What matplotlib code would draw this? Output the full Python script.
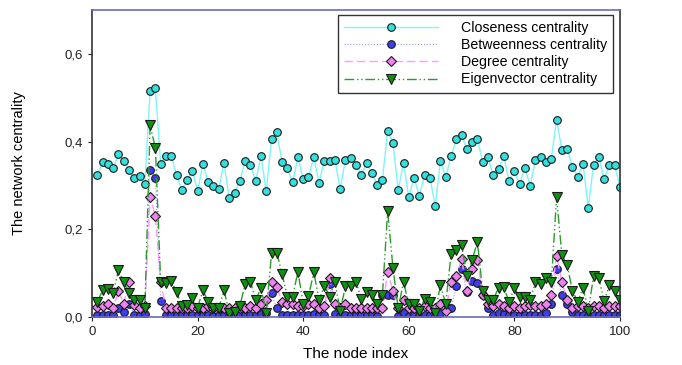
import matplotlib.pyplot as plt
from matplotlib.ticker import FuncFormatter

plt.rcParams['font.family'] = ['Liberation Sans', 'DejaVu Sans']

nodes = list(range(1, 101))

closeness = [0.323, 0.353, 0.349, 0.339, 0.371, 0.356, 0.336, 0.316, 0.322, 0.303,
             0.516, 0.521, 0.349, 0.368, 0.368, 0.323, 0.290, 0.312, 0.333, 0.287,
             0.349, 0.308, 0.299, 0.293, 0.351, 0.271, 0.283, 0.310, 0.356, 0.347,
             0.310, 0.367, 0.287, 0.405, 0.421, 0.353, 0.339, 0.307, 0.364, 0.314,
             0.319, 0.365, 0.306, 0.356, 0.356, 0.359, 0.292, 0.359, 0.363, 0.347,
             0.323, 0.351, 0.329, 0.302, 0.313, 0.424, 0.397, 0.290, 0.352, 0.273,
             0.317, 0.277, 0.323, 0.318, 0.254, 0.355, 0.319, 0.366, 0.405, 0.414,
             0.384, 0.398, 0.405, 0.354, 0.364, 0.323, 0.337, 0.367, 0.310, 0.333,
             0.303, 0.340, 0.299, 0.359, 0.365, 0.354, 0.361, 0.450, 0.381, 0.384,
             0.342, 0.320, 0.350, 0.249, 0.347, 0.365, 0.314, 0.346, 0.346, 0.297]

betweenness = [0.005, 0.005, 0.005, 0.005, 0.020, 0.012, 0.030, 0.005, 0.004, 0.008,
               0.335, 0.317, 0.038, 0.004, 0.004, 0.004, 0.004, 0.004, 0.006, 0.004,
               0.006, 0.004, 0.003, 0.004, 0.005, 0.003, 0.003, 0.004, 0.005, 0.006,
               0.004, 0.008, 0.010, 0.054, 0.020, 0.005, 0.004, 0.004, 0.006, 0.004,
               0.005, 0.008, 0.004, 0.006, 0.075, 0.008, 0.003, 0.006, 0.004, 0.005,
               0.004, 0.004, 0.004, 0.003, 0.050, 0.050, 0.050, 0.003, 0.010, 0.003,
               0.004, 0.003, 0.005, 0.004, 0.003, 0.010, 0.025, 0.020, 0.070, 0.110,
               0.057, 0.083, 0.077, 0.050, 0.020, 0.005, 0.010, 0.008, 0.004, 0.006,
               0.004, 0.005, 0.006, 0.005, 0.006, 0.010, 0.030, 0.110, 0.050, 0.030,
               0.012, 0.004, 0.005, 0.003, 0.006, 0.006, 0.004, 0.005, 0.004, 0.005]

degree = [0.023, 0.025, 0.030, 0.020, 0.060, 0.030, 0.080, 0.028, 0.020, 0.026,
          0.273, 0.231, 0.080, 0.020, 0.020, 0.020, 0.020, 0.022, 0.025, 0.020,
          0.022, 0.025, 0.020, 0.020, 0.022, 0.020, 0.020, 0.020, 0.022, 0.025,
          0.020, 0.030, 0.040, 0.080, 0.068, 0.035, 0.030, 0.030, 0.025, 0.025,
          0.030, 0.030, 0.020, 0.025, 0.090, 0.030, 0.020, 0.030, 0.020, 0.020,
          0.020, 0.020, 0.020, 0.020, 0.020, 0.102, 0.060, 0.020, 0.040, 0.020,
          0.020, 0.020, 0.025, 0.020, 0.020, 0.030, 0.015, 0.080, 0.093, 0.133,
          0.060, 0.110, 0.131, 0.050, 0.030, 0.025, 0.030, 0.025, 0.022, 0.025,
          0.022, 0.025, 0.028, 0.025, 0.025, 0.030, 0.050, 0.140, 0.080, 0.040,
          0.020, 0.025, 0.025, 0.020, 0.025, 0.025, 0.020, 0.025, 0.025, 0.025]

eigenvector = [0.035, 0.061, 0.064, 0.055, 0.107, 0.081, 0.054, 0.039, 0.039, 0.020,
               0.437, 0.385, 0.080, 0.079, 0.083, 0.057, 0.025, 0.028, 0.043, 0.022,
               0.061, 0.035, 0.020, 0.022, 0.061, 0.010, 0.011, 0.026, 0.075, 0.081,
               0.039, 0.066, 0.010, 0.146, 0.147, 0.098, 0.047, 0.047, 0.104, 0.030,
               0.048, 0.102, 0.040, 0.071, 0.047, 0.080, 0.015, 0.070, 0.070, 0.080,
               0.042, 0.057, 0.050, 0.030, 0.050, 0.241, 0.113, 0.020, 0.080, 0.030,
               0.030, 0.015, 0.042, 0.035, 0.010, 0.073, 0.030, 0.143, 0.152, 0.165,
               0.094, 0.131, 0.171, 0.060, 0.040, 0.040, 0.067, 0.068, 0.035, 0.067,
               0.045, 0.045, 0.040, 0.080, 0.075, 0.090, 0.080, 0.273, 0.142, 0.119,
               0.060, 0.035, 0.067, 0.015, 0.093, 0.090, 0.036, 0.073, 0.060, 0.040]

fig = plt.figure(figsize=(6.82, 3.65), dpi=100)
ax = fig.add_axes([0.135, 0.131, 0.774, 0.842])

ms = 5.5
ax.plot(nodes, closeness, color='#7ff5f5', lw=1, marker='o', ms=ms,
        mfc='#33e0e0', mec='#1a1a1a', mew=0.8, label='Closeness centrality')
ax.plot(nodes, betweenness, color='#9a9aff', lw=0.8, ls=':', marker='o', ms=ms,
        mfc='#3c3cf0', mec='#1a1a1a', mew=0.8, label='Betweenness centrality')
ax.plot(nodes, degree, color='#ff99ff', lw=1, ls=(0, (6, 3)), marker='D', ms=ms - 0.5,
        mfc='#ee82ee', mec='#1a1a1a', mew=0.8, label='Degree centrality')
ax.plot(nodes, eigenvector, color='#2e9a2e', lw=1, ls=(0, (7, 2, 1, 2, 1, 2)),
        marker='v', ms=ms + 1, mfc='#109010', mec='#1a1a1a', mew=0.8,
        label='Eigenvector centrality')

ax.set_xlim(0, 100)
ax.set_ylim(0, 0.7)
ax.set_xticks([0, 20, 40, 60, 80, 100])
ax.set_yticks([0.0, 0.2, 0.4, 0.6])
ax.yaxis.set_major_formatter(FuncFormatter(lambda v, p: f'{v:.1f}'.replace('.', ',')))
ax.tick_params(direction='out', length=3, width=0.8, labelsize=9.5, colors='#222222')

ax.spines['top'].set_color('#6b6bb8')
ax.spines['bottom'].set_color('#6b6bb8')
ax.spines['left'].set_color('#333333')
ax.spines['right'].set_color('#333333')
for s in ax.spines.values():
    s.set_linewidth(1.2)

ax.set_xlabel('The node index', fontsize=11, labelpad=6)
ax.set_ylabel('The network centrality', fontsize=10.5, labelpad=28)

leg = ax.legend(loc='upper right', bbox_to_anchor=(0.987, 0.984), fontsize=10.2,
                handlelength=6.6, fancybox=False, framealpha=1, edgecolor='#333333',
                borderpad=0.45, labelspacing=0.22, handletextpad=1.6,
                borderaxespad=0)
leg.get_frame().set_linewidth(1)

fig.savefig('out.png', dpi=100)
